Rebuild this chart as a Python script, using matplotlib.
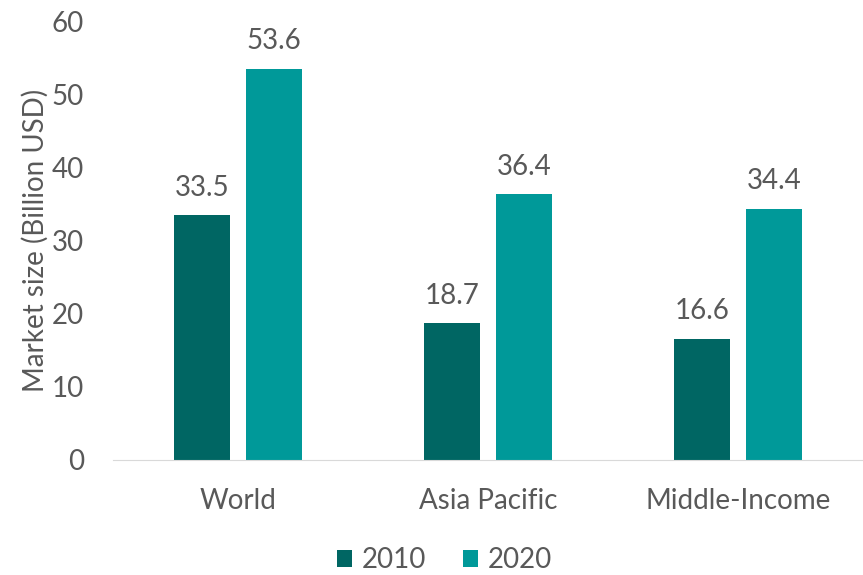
import matplotlib.pyplot as plt
import numpy as np

regions = ["World", "Asia Pacific", "Middle-Income"]
size_2010 = [33.5, 18.7, 16.6]
size_2020 = [53.6, 36.4, 34.4]
years = ["2010", "2020"]

c2010 = "#006663"
c2020 = "#009999"
grey = "#595959"

plt.rcParams['font.family'] = ['Lato', 'DejaVu Sans']

fig = plt.figure(figsize=(8.63, 5.75), dpi=100)
ax = fig.add_axes([0.131, 0.2, 0.869, 0.762])

x = np.arange(len(regions))
w = 0.225
off = 0.143
b1 = ax.bar(x - off, size_2010, w, color=c2010, label=years[0])
b2 = ax.bar(x + off, size_2020, w, color=c2020, label=years[1])

for bars, vals in ((b1, size_2010), (b2, size_2020)):
    for rect, v in zip(bars, vals):
        ax.text(rect.get_x() + rect.get_width() / 2, v + 2.0, f"{v:.1f}",
                ha='center', va='bottom', fontsize=20, color=grey)

ax.set_xlim(-0.5, 2.5)
ax.set_ylim(0, 60)
ax.set_yticks(range(0, 61, 10))
ax.set_xticks(x)
ax.set_xticklabels(regions, fontsize=21)
ax.tick_params(axis='both', length=0, labelsize=20, labelcolor=grey)
ax.tick_params(axis='x', pad=20)
ax.tick_params(axis='y', pad=21)
ax.set_ylabel("Market size (Billion USD)", fontsize=20, color=grey, labelpad=2)

for s in ['top', 'right', 'left']:
    ax.spines[s].set_visible(False)
ax.spines['bottom'].set_color('#d9d9d9')

fig.legend(loc='lower center', ncol=2, frameon=False, fontsize=20,
           labelcolor=grey, handlelength=0.55, handleheight=0.55,
           columnspacing=1.3, handletextpad=0.35, bbox_to_anchor=(0.515, -0.04))

fig.savefig("out.png", dpi=100)
